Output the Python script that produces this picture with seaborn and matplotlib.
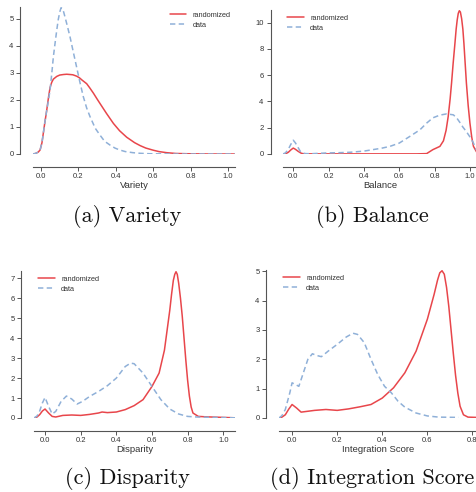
import numpy as np
import pandas as pd
import matplotlib
matplotlib.use("Agg")
import matplotlib.pyplot as plt
import seaborn as sns

# ---------------- data ----------------
variety_rand_x = [-0.043, -0.03, -0.015, -0.005, 0.005, 0.012, 0.02, 0.03, 0.04, 0.048, 0.057, 0.066, 0.084, 0.10, 0.12, 0.137, 0.155, 0.17, 0.19, 0.205, 0.22, 0.244, 0.26, 0.28, 0.3, 0.315, 0.35, 0.387, 0.42, 0.458, 0.5, 0.53, 0.56, 0.6, 0.63, 0.67, 0.72, 0.78, 0.9, 1.037]
variety_rand_y = [0.0, 0.02, 0.07, 0.15, 0.42, 0.76, 1.15, 1.6, 2.1, 2.45, 2.65, 2.77, 2.87, 2.92, 2.94, 2.95, 2.94, 2.93, 2.88, 2.82, 2.73, 2.6, 2.45, 2.25, 2.03, 1.87, 1.5, 1.13, 0.86, 0.62, 0.42, 0.31, 0.22, 0.14, 0.09, 0.05, 0.02, 0.01, 0.0, 0.0]
variety_data_x = [-0.043, -0.03, -0.015, -0.005, 0.005, 0.012, 0.02, 0.03, 0.04, 0.048, 0.057, 0.066, 0.075, 0.084, 0.092, 0.1, 0.107, 0.114, 0.121, 0.128, 0.14, 0.155, 0.17, 0.19, 0.208, 0.226, 0.244, 0.262, 0.29, 0.315, 0.34, 0.369, 0.395, 0.42, 0.45, 0.49, 0.53, 0.58, 0.7, 0.85, 1.037]
variety_data_y = [0.0, 0.02, 0.07, 0.15, 0.42, 0.76, 1.15, 1.6, 2.0, 2.36, 2.95, 3.6, 4.1, 4.58, 4.97, 5.25, 5.41, 5.38, 5.25, 5.07, 4.75, 4.33, 3.85, 3.22, 2.65, 2.12, 1.7, 1.38, 0.95, 0.7, 0.47, 0.33, 0.22, 0.15, 0.09, 0.05, 0.025, 0.01, 0.0, 0.0, 0.0]

balance_rand_x = [-0.058, -0.04, -0.028, -0.012, 0.0, 0.012, 0.028, 0.045, 0.057, 0.1, 0.3, 0.5, 0.7, 0.755, 0.79, 0.83, 0.85, 0.865, 0.877, 0.888, 0.896, 0.905, 0.915, 0.922, 0.928, 0.934, 0.94, 0.946, 0.953, 0.96, 0.966, 0.973, 0.98, 0.99, 1.0, 1.01, 1.02, 1.04]
balance_rand_y = [0.0, 0.04, 0.13, 0.33, 0.45, 0.36, 0.2, 0.06, 0.02, 0.01, 0.01, 0.01, 0.01, 0.03, 0.33, 0.58, 1.0, 1.8, 2.85, 4.2, 5.4, 6.9, 8.4, 9.5, 10.2, 10.7, 10.9, 10.8, 10.3, 9.5, 8.4, 6.9, 5.4, 3.7, 2.35, 1.3, 0.58, 0.1]
balance_data_x = [-0.058, -0.045, -0.03, -0.015, 0.0, 0.012, 0.025, 0.04, 0.05, 0.07, 0.1, 0.19, 0.26, 0.32, 0.4, 0.45, 0.5, 0.547, 0.6, 0.66, 0.717, 0.755, 0.79, 0.83, 0.868, 0.906, 0.925, 0.943, 0.96, 0.98, 1.0, 1.02, 1.04]
balance_data_y = [0.0, 0.08, 0.3, 0.7, 1.05, 0.85, 0.55, 0.2, 0.08, 0.03, 0.02, 0.08, 0.1, 0.13, 0.22, 0.33, 0.44, 0.58, 0.83, 1.34, 1.84, 2.35, 2.75, 2.96, 3.05, 2.98, 2.75, 2.4, 2.05, 1.7, 1.3, 0.83, 0.2]

disparity_rand_x = [-0.062, -0.045, -0.03, -0.015, 0.0, 0.02, 0.04, 0.06, 0.1, 0.15, 0.2, 0.25, 0.3, 0.32, 0.35, 0.4, 0.45, 0.5, 0.55, 0.6, 0.64, 0.67, 0.685, 0.7, 0.71, 0.72, 0.728, 0.735, 0.742, 0.75, 0.76, 0.77, 0.78, 0.79, 0.8, 0.81, 0.82, 0.83, 0.86, 0.9, 1.0, 1.066]
disparity_rand_y = [0.0, 0.05, 0.17, 0.35, 0.45, 0.25, 0.08, 0.05, 0.13, 0.15, 0.13, 0.18, 0.25, 0.3, 0.27, 0.3, 0.42, 0.62, 0.92, 1.58, 2.25, 3.4, 4.4, 5.4, 6.2, 6.9, 7.2, 7.33, 7.2, 6.75, 6.0, 5.1, 4.0, 2.9, 1.9, 1.1, 0.55, 0.25, 0.08, 0.06, 0.03, 0.01]
disparity_data_x = [-0.062, -0.045, -0.03, -0.015, 0.0, 0.02, 0.04, 0.06, 0.09, 0.12, 0.15, 0.18, 0.21, 0.25, 0.3, 0.35, 0.4, 0.45, 0.48, 0.5, 0.55, 0.6, 0.65, 0.7, 0.75, 0.8, 0.85, 0.9, 1.0, 1.066]
disparity_data_y = [0.0, 0.1, 0.35, 0.75, 1.03, 0.58, 0.2, 0.33, 0.83, 1.1, 0.95, 0.7, 0.83, 1.08, 1.33, 1.62, 2.0, 2.58, 2.75, 2.72, 2.25, 1.58, 0.92, 0.45, 0.2, 0.08, 0.05, 0.04, 0.02, 0.01]

integ_rand_x = [-0.058, -0.045, -0.03, -0.015, 0.0, 0.02, 0.04, 0.07, 0.1, 0.15, 0.2, 0.25, 0.3, 0.35, 0.4, 0.45, 0.5, 0.55, 0.6, 0.63, 0.645, 0.655, 0.665, 0.675, 0.685, 0.695, 0.705, 0.715, 0.725, 0.735, 0.745, 0.76, 0.78, 0.82]
integ_rand_y = [0.0, 0.03, 0.11, 0.3, 0.46, 0.34, 0.2, 0.23, 0.26, 0.29, 0.26, 0.31, 0.38, 0.46, 0.68, 1.03, 1.54, 2.28, 3.37, 4.22, 4.7, 4.95, 5.02, 4.9, 4.45, 3.8, 3.0, 2.2, 1.45, 0.85, 0.4, 0.11, 0.03, 0.02]
integ_data_x = [-0.058, -0.045, -0.03, -0.01, 0.0, 0.015, 0.03, 0.05, 0.07, 0.09, 0.11, 0.13, 0.16, 0.2, 0.24, 0.27, 0.29, 0.32, 0.35, 0.38, 0.41, 0.44, 0.47, 0.5, 0.55, 0.6, 0.65, 0.738]
integ_data_y = [0.0, 0.08, 0.29, 0.86, 1.2, 1.14, 1.08, 1.54, 2.0, 2.19, 2.13, 2.09, 2.28, 2.51, 2.76, 2.89, 2.85, 2.57, 2.0, 1.48, 1.08, 0.86, 0.57, 0.37, 0.17, 0.07, 0.03, 0.02]

panel_xlabels = ["Variety", "Balance", "Disparity", "Integration Score"]
panel_captions = ["(a) Variety", "(b) Balance", "(c) Disparity", "(d) Integration Score"]
series_names = ["randomized", "data"]
xlims = [(-0.043, 1.037), (-0.058, 1.04), (-0.062, 1.066), (-0.058, 0.82)]
xticks = [[0.0, 0.2, 0.4, 0.6, 0.8, 1.0]] * 3 + [[0.0, 0.2, 0.4, 0.6, 0.8]]
yticks = [[0, 1, 2, 3, 4, 5], [0, 2, 4, 6, 8, 10], [0, 1, 2, 3, 4, 5, 6, 7], [0, 1, 2, 3, 4, 5]]
legend_locs = ["upper right", "upper left", "upper left", "upper left"]

curves = [
    (variety_rand_x, variety_rand_y, variety_data_x, variety_data_y),
    (balance_rand_x, balance_rand_y, balance_data_x, balance_data_y),
    (disparity_rand_x, disparity_rand_y, disparity_data_x, disparity_data_y),
    (integ_rand_x, integ_rand_y, integ_data_x, integ_data_y),
]

# ---------------- style ----------------
sns.set_theme(style="ticks")
plt.rcParams["font.family"] = ["Liberation Sans", "DejaVu Sans"]

RED = "#e8464b"
BLUE = "#8fb0d8"
AX_COL = "#555555"

W, H = 477, 492
fig = plt.figure(figsize=(W / 100, H / 100), dpi=100)

# axes boxes in pixels: (left, right, top, bottom)
boxes = [(33, 235, 7, 154), (283, 477, 10, 154), (34, 235, 271, 418), (279, 477, 270, 418)]
caption_pos = [(127, 216), (372, 216), (127, 478), (372, 478)]
label_y = [185, 185, 450, 450]

for i, (rx, ry, dx, dy) in enumerate(curves):
    l, r, t, b = boxes[i]
    ax = fig.add_axes([l / W, 1 - b / H, (r - l) / W, (b - t) / H])
    df = pd.concat([
        pd.DataFrame({"x": rx, "y": ry, "series": series_names[0]}),
        pd.DataFrame({"x": dx, "y": dy, "series": series_names[1]}),
    ])
    sns.lineplot(data=df, x="x", y="y", hue="series", style="series",
                 palette={series_names[0]: RED, series_names[1]: BLUE},
                 dashes={series_names[0]: "", series_names[1]: (3.5, 2.2)},
                 linewidth=1.1, sort=False, estimator=None, ax=ax)
    ax.set_xlim(*xlims[i])
    ax.set_ylim(0, max(max(ry), max(dy)) * 1.005)
    ax.set_xticks(xticks[i])
    ax.set_xticklabels([f"{v:.1f}" for v in xticks[i]])
    ax.set_yticks(yticks[i])
    ax.set_yticklabels([str(v) for v in yticks[i]])
    ax.set_ylabel("")
    ax.set_xlabel("")
    ax.tick_params(axis="both", labelsize=5.5, length=3, width=0.7, pad=2,
                   colors=AX_COL, labelcolor="#333333")
    sns.despine(ax=ax, offset=9)
    for s in ("left", "bottom"):
        ax.spines[s].set_color(AX_COL)
        ax.spines[s].set_linewidth(0.8)
    leg = ax.legend(loc=legend_locs[i], frameon=False, fontsize=5.3,
                    handlelength=2.2, handletextpad=0.9, labelspacing=0.45,
                    borderaxespad=0.2)
    for txt in leg.get_texts():
        txt.set_color("#333333")
    cx = (l + r) / 2
    fig.text(cx / W, 1 - label_y[i] / H, panel_xlabels[i], ha="center", va="center",
             fontsize=6.8, color="#333333")
    fig.text(caption_pos[i][0] / W, 1 - caption_pos[i][1] / H, panel_captions[i],
             ha="center", va="center", fontsize=16, family=["cmr10", "DejaVu Serif"],
             color="#111111")

fig.savefig("out.png", dpi=100, facecolor="white")
